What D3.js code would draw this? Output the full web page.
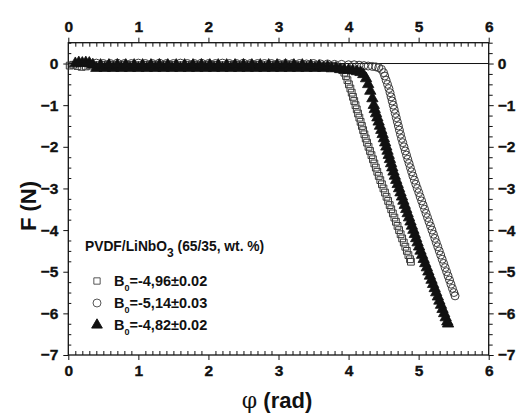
<!DOCTYPE html>
<html><head><meta charset="utf-8">
<script src="https://cdn.jsdelivr.net/npm/d3@7"></script>
<style>
body{margin:0;background:#fff}
text{font-family:"Liberation Sans",Arial,sans-serif;font-weight:bold;fill:#111}
</style>
</head><body>
<svg id="c" width="517" height="414"></svg>
<script>
// ---- data ----
const xTicks = [0, 1, 2, 3, 4, 5, 6];
const yTicks = [0, -1, -2, -3, -4, -5, -6, -7];
const legendTitle = ["PVDF/LiNbO", "3", " (65/35, wt. %)"];
const seriesLabels = ["=-4,96\u00b10.02", "=-5,14\u00b10.03", "=-4,82\u00b10.02"];

const squares = [
[0.02,-0.05],[0.07,-0.03],[0.13,-0.06],[0.19,-0.08],[0.25,-0.07],[0.31,-0.05],[0.4,-0.04],[0.5,-0.03],[0.6,-0.03],[0.7,-0.04],
[0.8,-0.03],[0.9,-0.03],[1.0,-0.04],[1.1,-0.03],[1.2,-0.03],[1.3,-0.04],[1.4,-0.03],[1.5,-0.03],[1.6,-0.04],[1.7,-0.03],
[1.8,-0.03],[1.9,-0.04],[2.0,-0.03],[2.1,-0.03],[2.2,-0.04],[2.3,-0.03],[2.4,-0.03],[2.5,-0.04],[2.6,-0.03],[2.7,-0.03],
[2.8,-0.04],[2.9,-0.03],[3.0,-0.03],[3.1,-0.04],[3.2,-0.03],[3.3,-0.04],[3.4,-0.04],[3.5,-0.04],[3.6,-0.05],[3.7,-0.05],
[3.76,-0.06],[3.82,-0.08],[3.87,-0.11],[3.91,-0.16],[3.94,-0.22],
[3.963,-0.3],[3.984,-0.4],[4.005,-0.5],[4.026,-0.6],[4.045,-0.7],[4.063,-0.8],[4.081,-0.9],[4.099,-1.0],[4.117,-1.1],[4.135,-1.2],
[4.154,-1.3],[4.172,-1.4],[4.19,-1.5],[4.208,-1.6],[4.226,-1.7],[4.245,-1.8],[4.264,-1.9],[4.285,-2.0],[4.306,-2.1],[4.327,-2.2],
[4.348,-2.3],[4.368,-2.4],[4.389,-2.5],[4.41,-2.6],[4.431,-2.7],[4.453,-2.8],[4.476,-2.9],[4.498,-3.0],[4.52,-3.1],[4.542,-3.2],
[4.565,-3.3],[4.587,-3.4],[4.609,-3.5],[4.632,-3.6],[4.654,-3.7],[4.676,-3.8],[4.699,-3.9],[4.721,-4.0],[4.743,-4.1],[4.765,-4.2],
[4.788,-4.3],[4.81,-4.4],[4.832,-4.5],[4.854,-4.6],[4.877,-4.7],[4.89,-4.76]
];

const circles = [
[0.3,0.0],[0.4,0.01],[0.5,0.0],[0.6,0.0],[0.7,0.01],[0.8,0.0],[0.9,0.0],[1.0,0.01],[1.1,0.0],[1.2,0.0],
[1.3,0.01],[1.4,0.0],[1.5,0.0],[1.6,0.01],[1.7,0.0],[1.8,0.0],[1.9,0.01],[2.0,0.0],[2.1,0.0],[2.2,0.01],
[2.3,0.0],[2.4,0.0],[2.5,0.01],[2.6,0.0],[2.7,0.0],[2.8,0.0],[2.9,0.0],[3.0,0.0],[3.1,0.0],[3.2,0.0],
[3.3,0.0],[3.4,-0.01],[3.5,0.0],[3.6,-0.01],[3.7,-0.01],[3.8,-0.02],[3.9,-0.02],[4.0,-0.03],[4.08,-0.03],[4.15,-0.04],
[4.22,-0.05],[4.28,-0.06],[4.34,-0.07],[4.39,-0.08],[4.43,-0.1],[4.47,-0.14],[4.5,-0.22],
[4.516,-0.3],[4.536,-0.4],[4.556,-0.5],[4.576,-0.6],[4.592,-0.7],[4.607,-0.8],[4.622,-0.9],[4.637,-1.0],[4.651,-1.1],[4.666,-1.2],
[4.681,-1.3],[4.696,-1.4],[4.711,-1.5],[4.726,-1.6],[4.741,-1.7],[4.756,-1.8],[4.773,-1.9],[4.791,-2.0],[4.809,-2.1],[4.827,-2.2],
[4.845,-2.3],[4.864,-2.4],[4.882,-2.5],[4.9,-2.6],[4.918,-2.7],[4.939,-2.8],[4.96,-2.9],[4.981,-3.0],[5.002,-3.1],[5.022,-3.2],
[5.043,-3.3],[5.064,-3.4],[5.085,-3.5],[5.106,-3.6],[5.127,-3.7],[5.148,-3.8],[5.169,-3.9],[5.19,-4.0],[5.211,-4.1],[5.232,-4.2],
[5.252,-4.3],[5.273,-4.4],[5.294,-4.5],[5.315,-4.6],[5.336,-4.7],[5.357,-4.8],[5.378,-4.9],[5.399,-5.0],[5.42,-5.1],[5.441,-5.2],
[5.461,-5.3],[5.482,-5.4],[5.503,-5.5],[5.52,-5.58]
];

const triangles = [
[0.1,0.0],[0.15,0.02],[0.2,0.01],[0.25,0.02],[0.3,0.01],[0.35,-0.03],
[0.40,-0.11],[0.46,-0.04],[0.52,-0.11],[0.58,-0.04],[0.64,-0.11],[0.70,-0.04],[0.76,-0.11],[0.82,-0.04],[0.88,-0.11],[0.94,-0.04],
[1.00,-0.11],[1.06,-0.04],[1.12,-0.11],[1.18,-0.04],[1.24,-0.11],[1.30,-0.04],[1.36,-0.11],[1.42,-0.04],[1.48,-0.11],[1.54,-0.04],
[1.60,-0.11],[1.66,-0.04],[1.72,-0.11],[1.78,-0.04],[1.84,-0.11],[1.90,-0.04],[1.96,-0.11],[2.02,-0.04],[2.08,-0.11],[2.14,-0.04],
[2.20,-0.11],[2.26,-0.04],[2.32,-0.11],[2.38,-0.04],[2.44,-0.11],[2.50,-0.04],[2.56,-0.11],[2.62,-0.04],[2.68,-0.11],[2.74,-0.04],
[2.80,-0.11],[2.86,-0.04],[2.92,-0.11],[2.98,-0.04],[3.04,-0.11],[3.10,-0.04],[3.16,-0.11],[3.22,-0.04],[3.28,-0.11],[3.34,-0.04],
[3.40,-0.11],[3.46,-0.05],[3.52,-0.11],[3.58,-0.06],
[3.64,-0.11],[3.7,-0.08],[3.76,-0.12],[3.82,-0.11],[3.88,-0.14],[3.94,-0.15],[4.0,-0.16],[4.06,-0.17],[4.12,-0.19],[4.17,-0.21],
[4.21,-0.26],[4.25,-0.36],[4.28,-0.5],[4.31,-0.66],[4.34,-0.84],[4.36,-1.0],
[4.373,-1.1],[4.392,-1.2],[4.411,-1.3],[4.429,-1.4],[4.448,-1.5],[4.467,-1.6],[4.486,-1.7],[4.504,-1.8],[4.522,-1.9],[4.539,-2.0],
[4.556,-2.1],[4.573,-2.2],[4.59,-2.3],[4.607,-2.4],[4.624,-2.5],[4.641,-2.6],[4.66,-2.7],[4.68,-2.8],[4.701,-2.9],[4.721,-3.0],
[4.741,-3.1],[4.762,-3.2],[4.782,-3.3],[4.802,-3.4],[4.823,-3.5],[4.843,-3.6],[4.863,-3.7],[4.884,-3.8],[4.904,-3.9],[4.925,-4.0],
[4.945,-4.1],[4.965,-4.2],[4.985,-4.3],[5.006,-4.4],[5.027,-4.5],[5.049,-4.6],[5.072,-4.7],[5.094,-4.8],[5.117,-4.9],[5.139,-5.0],
[5.161,-5.1],[5.184,-5.2],[5.206,-5.3],[5.229,-5.4],[5.251,-5.5],[5.274,-5.6],[5.296,-5.7],[5.319,-5.8],[5.341,-5.9],[5.364,-6.0],
[5.386,-6.1],[5.409,-6.2],[5.42,-6.25]
];

// ---- layout ----
const svg = d3.select("#c");
const L = 68.3, R = 488.7, T = 42.7, B = 355;
const x = d3.scaleLinear().domain([0, 6]).range([L, R]);
const y = d3.scaleLinear().domain([-7, 0.5]).range([B, T]);

const xMinor = d3.range(0, 61).map(i => i / 10).filter(v => Math.abs(v - Math.round(v)) > 1e-6);
const yMinor = d3.range(-28, 3).map(i => i / 4).filter(v => Math.abs(v - Math.round(v)) > 1e-6);

function styleAxis(g){
  g.select(".domain").remove();
  g.attr("font-family", null).attr("font-size", null);
  g.selectAll("line").attr("stroke","#111").attr("stroke-width",1);
  g.selectAll("text").attr("font-size","15.5px").attr("font-weight","bold")
    .attr("font-family","'Liberation Sans', Arial, sans-serif").attr("fill","#111")
    .attr("stroke","#111").attr("stroke-width",0.35);
}

// bottom
svg.append("g").attr("transform",`translate(0,${B})`)
  .call(d3.axisBottom(x).tickValues(xTicks).tickSize(5).tickPadding(5).tickFormat(d3.format("d")))
  .call(styleAxis);
svg.append("g").attr("transform",`translate(0,${B})`)
  .call(d3.axisBottom(x).tickValues(xMinor).tickSize(-4).tickFormat(""))
  .call(styleAxis);
// top
svg.append("g").attr("transform",`translate(0,${T})`)
  .call(d3.axisTop(x).tickValues(xTicks).tickSize(5).tickPadding(6).tickFormat(d3.format("d")))
  .call(styleAxis);
svg.append("g").attr("transform",`translate(0,${T})`)
  .call(d3.axisTop(x).tickValues(xMinor).tickSize(-4).tickFormat(""))
  .call(styleAxis);
// left
svg.append("g").attr("transform",`translate(${L},0)`)
  .call(d3.axisLeft(y).tickValues(yTicks).tickSize(5).tickPadding(5).tickFormat(d3.format("d")))
  .call(styleAxis);
svg.append("g").attr("transform",`translate(${L},0)`)
  .call(d3.axisLeft(y).tickValues(yMinor).tickSize(-3).tickFormat(""))
  .call(styleAxis);
// right
svg.append("g").attr("transform",`translate(${R},0)`)
  .call(d3.axisRight(y).tickValues(yTicks).tickSize(5).tickPadding(4).tickFormat(d3.format("d")))
  .call(styleAxis);
svg.append("g").attr("transform",`translate(${R},0)`)
  .call(d3.axisRight(y).tickValues(yMinor).tickSize(4).tickFormat(""))
  .call(styleAxis);

// frame
svg.append("rect").attr("x",L).attr("y",T).attr("width",R-L).attr("height",B-T)
  .attr("fill","none").attr("stroke","#111").attr("stroke-width",1.3);

// zero line
svg.append("line").attr("x1",x(0)).attr("x2",x(6)).attr("y1",y(0)).attr("y2",y(0))
  .attr("stroke","#111").attr("stroke-width",1);

// markers
const symSq = d3.symbol().type(d3.symbolSquare).size(46);
const symCi = d3.symbol().type(d3.symbolCircle).size(50);
const symTr = d3.symbol().type(d3.symbolTriangle).size(56);

const plot = svg.append("g");
plot.selectAll(".sq").data(squares).join("path").attr("class","sq")
  .attr("d",symSq).attr("transform",d=>`translate(${x(d[0])},${y(d[1])})`)
  .attr("fill","none").attr("stroke","#3a3a3a").attr("stroke-width",1);
plot.selectAll(".ci").data(circles).join("path").attr("class","ci")
  .attr("d",symCi).attr("transform",d=>`translate(${x(d[0])},${y(d[1])})`)
  .attr("fill","none").attr("stroke","#3a3a3a").attr("stroke-width",1);
plot.selectAll(".tr").data(triangles).join("path").attr("class","tr")
  .attr("d",symTr).attr("transform",d=>`translate(${x(d[0])},${y(d[1])})`)
  .attr("fill","#111").attr("stroke","#111").attr("stroke-width",0.8);

// legend
const lt = svg.append("text").attr("x",85).attr("y",251).attr("font-size","13.8px");
lt.append("tspan").text(legendTitle[0]);
lt.append("tspan").attr("dy",6).attr("font-size","12px").text(legendTitle[1]);
lt.append("tspan").attr("dy",-6).text(legendTitle[2]);

const legY = [281, 303, 325];
const legSyms = [
  {s:d3.symbol().type(d3.symbolSquare).size(40), fill:"none", stroke:"#444"},
  {s:d3.symbol().type(d3.symbolCircle).size(50), fill:"none", stroke:"#444"},
  {s:d3.symbol().type(d3.symbolTriangle).size(50), fill:"#111", stroke:"#111"}
];
legY.forEach((ly,i)=>{
  svg.append("path").attr("d",legSyms[i].s).attr("transform",`translate(97,${ly})`)
    .attr("fill",legSyms[i].fill).attr("stroke",legSyms[i].stroke).attr("stroke-width",0.9);
  const t = svg.append("text").attr("x",114).attr("y",ly+5).attr("font-size","14.5px");
  t.append("tspan").text("B");
  t.append("tspan").attr("dy",5).attr("font-size","9px").text("0");
  t.append("tspan").attr("dy",-5).text(seriesLabels[i]);
});

// axis titles
svg.append("text").attr("transform","translate(36,206) rotate(-90)").attr("text-anchor","middle")
  .attr("font-size","22px").text("F (N)");
const xt = svg.append("text").attr("x",277).attr("y",408).attr("text-anchor","middle").attr("font-size","22px");
xt.append("tspan").style("font-family","'DejaVu Serif','Liberation Serif',serif").style("font-weight","normal").text("\u03c6");
xt.append("tspan").text(" (rad)");
</script>
</body></html>
